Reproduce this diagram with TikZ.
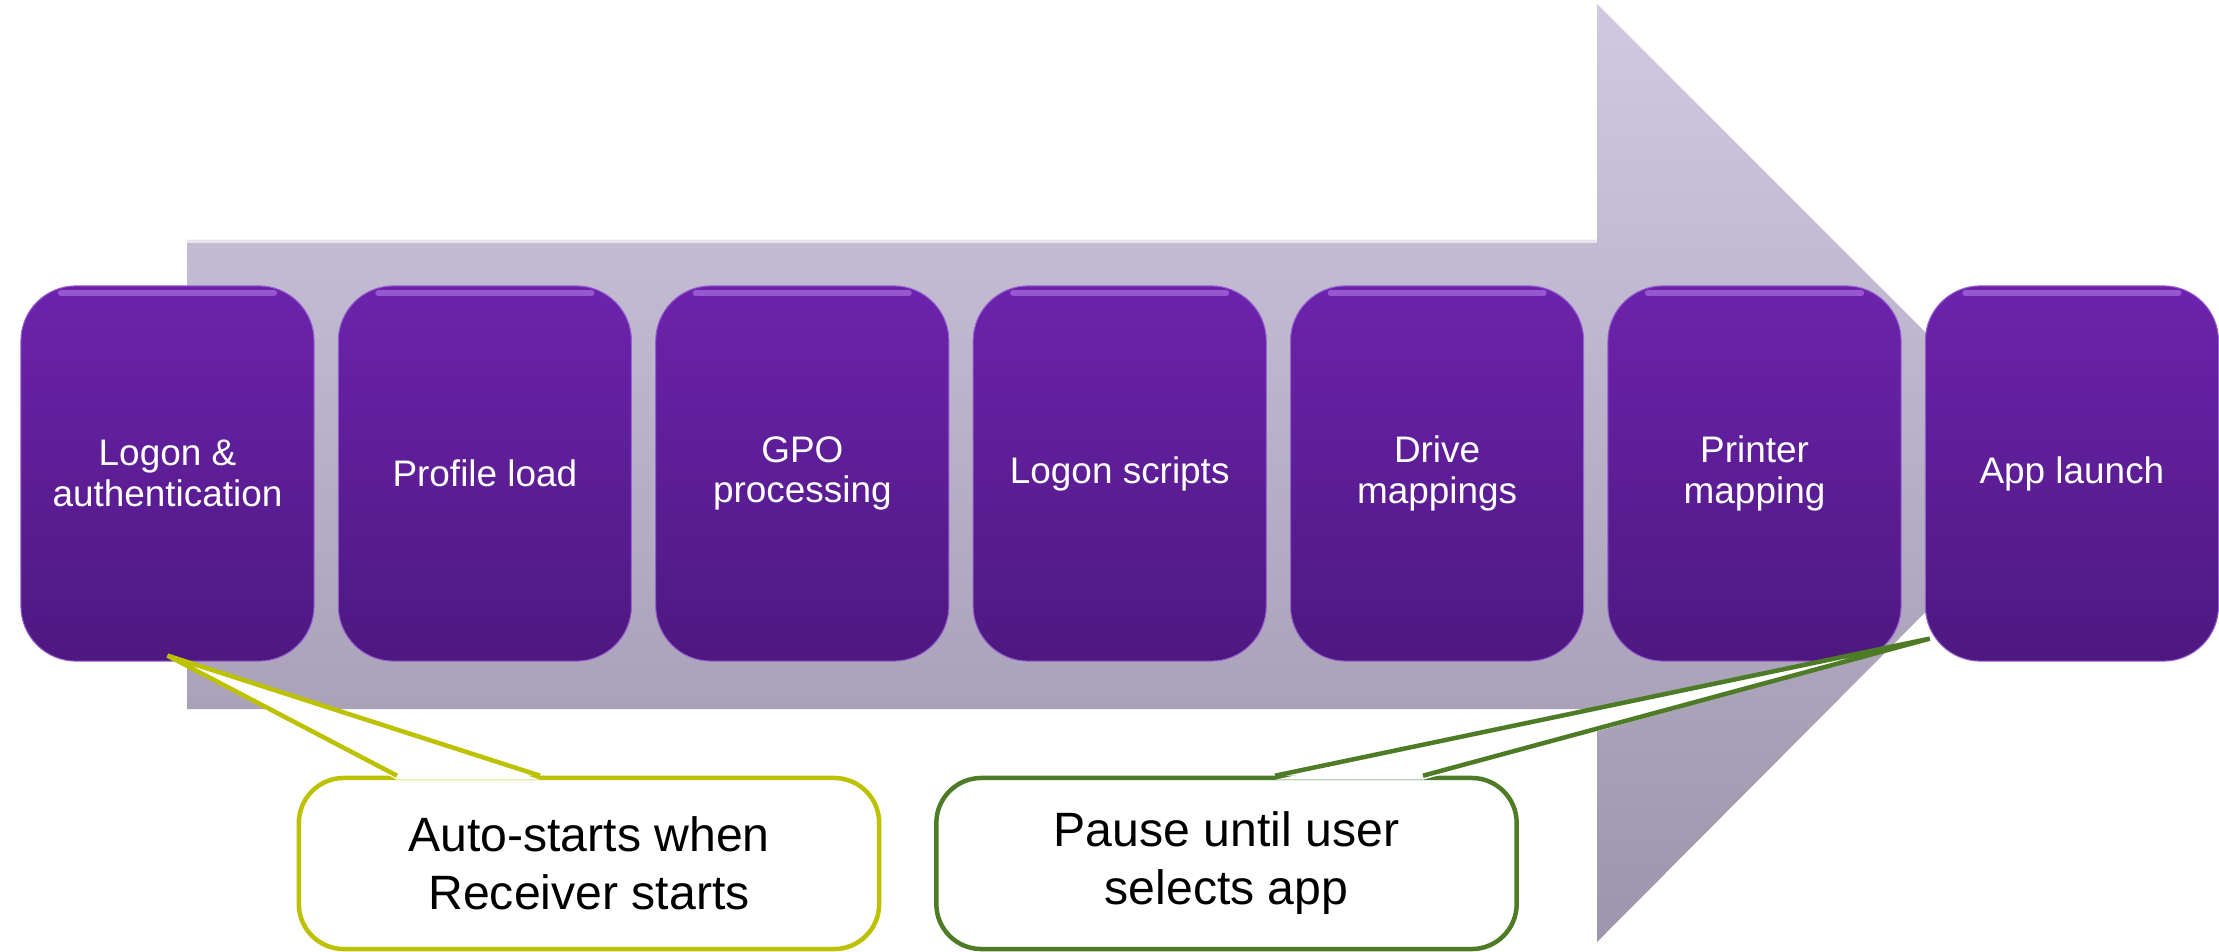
\documentclass[tikz,border=0pt]{standalone}
\usepackage{fontspec}
\setmainfont{Liberation Sans}
\definecolor{arrowtop}{RGB}{208,201,223}
\definecolor{arrowbot}{RGB}{157,149,172}
\definecolor{stagetop}{RGB}{108,35,172}
\definecolor{stagebot}{RGB}{78,24,128}
\definecolor{stageedge}{RGB}{150,95,210}
\definecolor{stagehi}{RGB}{185,130,240}
\definecolor{autoline}{RGB}{188,194,0}
\definecolor{pauseline}{RGB}{78,124,38}
\begin{document}
\begin{tikzpicture}[x=0.01cm,y=-0.01cm,
    stage/.style={rectangle,rounded corners=0.55cm,minimum width=2.93cm,minimum height=3.75cm,
        top color=stagetop,bottom color=stagebot,draw=stageedge,line width=0.01cm,
        text=white,align=center,font=\fontsize{10.5}{11.5}\selectfont,
        path picture={\draw[stagehi,opacity=.55,line width=0.06cm,line cap=round]
            ([shift={(40,7)}]path picture bounding box.north west) -- ([shift={(-40,7)}]path picture bounding box.north east);}},
    note/.style={rectangle,rounded corners=0.45cm,minimum width=5.8cm,minimum height=1.71cm,
        fill=white,line width=0.045cm,align=center,font=\fontsize{13.7}{16.5}\selectfont}]
    \useasboundingbox (0,0) rectangle (2219,952);

    % big arrow behind the stages
    \shade[top color=arrowtop,bottom color=arrowbot] (187,240) -- (1597,240) -- (1597,4) -- (2065,472)
        -- (1597,942) -- (1597,709) -- (187,709) -- cycle;
    \draw[white,opacity=.6,line width=0.03cm] (187,242) -- (1597,242);

    \node (logon) at (167.5,473.5) [stage] {Logon \&\\authentication};
    \node (profile) at (484.9,473.5) [stage] {Profile load};
    \node (gpo) at (802.3,473.5) [stage] {GPO\\processing};
    \node (scripts) at (1119.7,473.5) [stage] {Logon scripts};
    \node (drives) at (1437.1,473.5) [stage] {Drive\\mappings};
    \node (printer) at (1754.5,473.5) [stage] {Printer\\mapping};
    \node (launch) at (2071.9,473.5) [stage] {App launch};

    % callouts
    \node (autonote) at (589,863.5) [note,draw=autoline] {Auto-starts when\\Receiver starts};
    \coordinate (autotip) at ([shift={(0,-6)}]logon.south);
    \fill[white] ([shift={(-192,4)}]autonote.north) -- (autotip) -- ([shift={(-49,4)}]autonote.north) -- cycle;
    \draw[autoline,line width=0.045cm] ([shift={(-192,0)}]autonote.north) -- (autotip) -- ([shift={(-49,0)}]autonote.north);

    \node (pausenote) at (1226.5,863.5) [note,draw=pauseline] {Pause until user\\selects app};
    \coordinate (pausetip) at ([shift={(5,-23)}]launch.south west);
    \fill[white] ([shift={(48.5,4)}]pausenote.north) -- (pausetip) -- ([shift={(196.5,4)}]pausenote.north) -- cycle;
    \draw[pauseline,line width=0.045cm] ([shift={(48.5,0)}]pausenote.north) -- (pausetip) -- ([shift={(196.5,0)}]pausenote.north);
\end{tikzpicture}
\end{document}
